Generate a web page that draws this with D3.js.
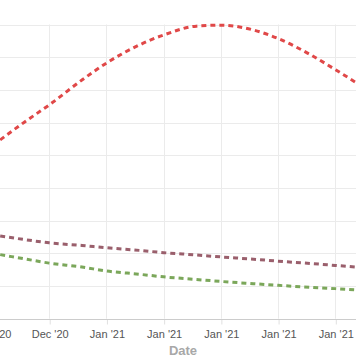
<!DOCTYPE html>
<html><head><meta charset="utf-8">
<script src="https://cdn.jsdelivr.net/npm/d3@7"></script>
<style>body{margin:0;background:#fff}svg{display:block}</style>
</head><body>
<svg id="c" width="356" height="364"></svg>
<script>
const dates = ["2020-12-21","2020-12-24","2020-12-27","2020-12-31","2021-01-03","2021-01-07","2021-01-10","2021-01-14","2021-01-17","2021-01-21","2021-01-24","2021-01-28","2021-01-31","2021-02-03"];
const redValues   = [54.7,60.2,65.4,73.0,78.2,83.7,86.8,89.5,89.8,88.3,85.7,80.7,76.2,71.5];
const mauveValues = [25.3,24.2,23.2,22.4,21.7,20.9,20.2,19.5,18.9,18.2,17.6,16.9,16.3,15.7];
const greenValues = [19.6,18.3,17.0,15.8,14.6,13.6,12.8,12.0,11.4,10.7,10.2,9.6,9.2,8.7];
const tickDates = ["2020-12-20","2020-12-27","2021-01-03","2021-01-10","2021-01-17","2021-01-24","2021-01-31"];
const yTicks = [0,10,20,30,40,50,60,70,80,90];
const xTitle = "Date";

(function(){
const parse = d3.utcParse("%Y-%m-%d");
const svg = d3.select("#c");
const W = 356, plotTop = 24.5, plotBottom = 318.7;
const x = d3.scaleUtc().domain([parse(tickDates[0]), parse(tickDates[6])]).range([-8, 335.3]);
const y = d3.scaleLinear().domain([0, 90]).range([plotBottom, plotTop]);

svg.append("g").selectAll("line").data(yTicks.slice(1)).join("line")
  .attr("x1", 0).attr("x2", W)
  .attr("y1", d => Math.round(y(d)) + 0.5).attr("y2", d => Math.round(y(d)) + 0.5)
  .attr("stroke", "#ebebeb").attr("stroke-width", 1);
const td = tickDates.map(parse);
svg.append("g").selectAll("line").data(td).join("line")
  .attr("x1", d => Math.round(x(d)) + 0.5).attr("x2", d => Math.round(x(d)) + 0.5)
  .attr("y1", plotTop).attr("y2", plotBottom)
  .attr("stroke", "#ebebeb").attr("stroke-width", 1);

const xAxis = d3.axisBottom(x).tickValues(td).tickFormat(d3.utcFormat("%b '%y")).tickSize(5).tickPadding(6);
const gx = svg.append("g").attr("transform", `translate(0.5,${Math.round(plotBottom)+0.5})`).call(xAxis);
gx.select(".domain").remove();
gx.selectAll(".tick line").attr("stroke", "#e0e0e0");
gx.selectAll("text").attr("fill", "#555").attr("font-family", "Liberation Sans, Arial, sans-serif").attr("font-size", 11);
svg.append("line").attr("x1", 0).attr("x2", W).attr("y1", Math.round(plotBottom)+0.5).attr("y2", Math.round(plotBottom)+0.5).attr("stroke", "#ccc");

svg.append("text").attr("x", 183).attr("y", 355).attr("text-anchor", "middle")
  .attr("fill", "#a8a8a8").attr("font-family", "Liberation Sans, Arial, sans-serif").attr("font-size", 13).attr("font-weight", "bold").text(xTitle);

svg.append("defs").append("clipPath").attr("id", "clip").append("rect").attr("x", 0).attr("y", 0).attr("width", W).attr("height", plotBottom);

const line = d3.line().x((d, i) => x(parse(dates[i]))).y(d => y(d)).curve(d3.curveMonotoneX);
const series = [[redValues, "#e04848"], [mauveValues, "#9a5f6c"], [greenValues, "#7ba75a"]];
svg.append("g").attr("clip-path", "url(#clip)").selectAll("path").data(series).join("path")
  .attr("d", d => line(d[0])).attr("fill", "none").attr("stroke", d => d[1])
  .attr("stroke-width", 3).attr("stroke-dasharray", "5,4");
})();
</script>
</body></html>
